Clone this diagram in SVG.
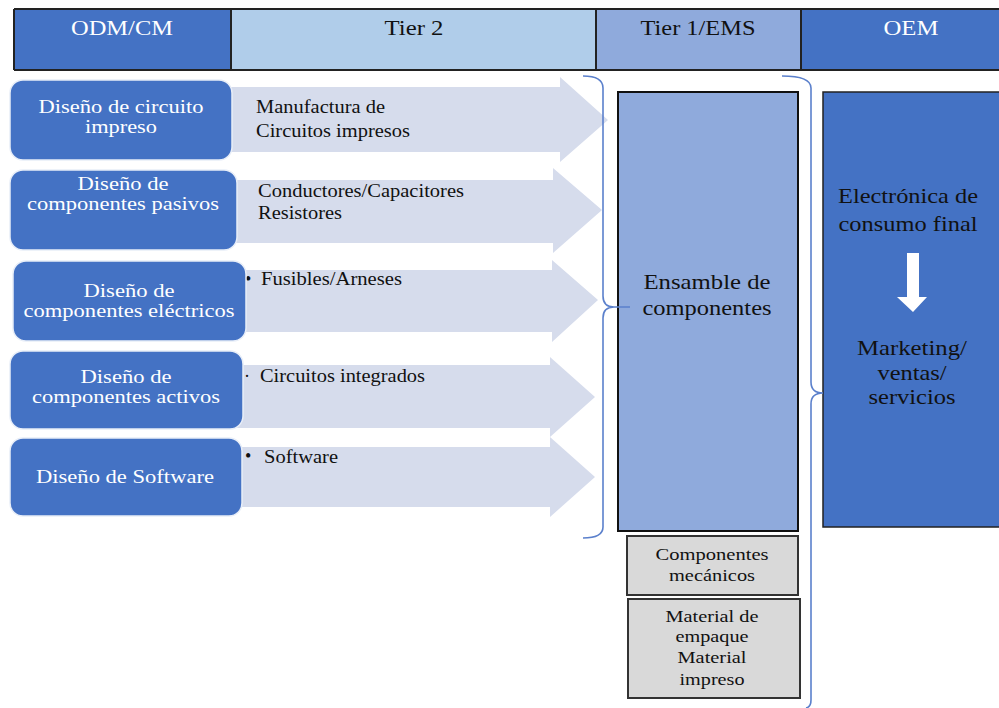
<svg xmlns="http://www.w3.org/2000/svg" width="999" height="708" viewBox="0 0 999 708">
  <style>
    text { font-family: "Liberation Serif", "Times New Roman", serif; }
    .hdr { font-size: 21px; text-anchor: middle; }
    .lbl { font-size: 19.5px; fill: #ffffff; text-anchor: middle; }
    .arrtxt { font-size: 18px; fill: #111111; }
    .big { font-size: 21px; fill: #111111; text-anchor: middle; }
    .small { font-size: 17.5px; fill: #111111; text-anchor: middle; }
    .design { fill: #4472C4; stroke: #e8eef8; stroke-width: 1.5; }
    .flow { fill: #D6DCEC; }
    .brace { fill: none; stroke: #5B80CC; stroke-width: 1.6; }
  </style>

  <!-- header row -->
  <g id="header">
    <rect x="14" y="9" width="217" height="61" fill="#4472C4"/>
    <rect x="231" y="9" width="365" height="61" fill="#B0CDEA"/>
    <rect x="596" y="9" width="205" height="61" fill="#8FAADC"/>
    <rect x="801" y="9" width="210" height="61" fill="#4472C4"/>
    <path d="M14,9 H1010 M14,70 H1010 M14,9 V70 M231,9 V70 M596,9 V70 M801,9 V70" stroke="#222222" stroke-width="2" fill="none"/>
    <text class="hdr" x="122" y="35" fill="#ffffff" textLength="102" lengthAdjust="spacingAndGlyphs">ODM/CM</text>
    <text class="hdr" x="414" y="35" fill="#111111" textLength="59" lengthAdjust="spacingAndGlyphs">Tier 2</text>
    <text class="hdr" x="698" y="35" fill="#111111" textLength="115" lengthAdjust="spacingAndGlyphs">Tier 1/EMS</text>
    <text class="hdr" x="911" y="35" fill="#ffffff" textLength="55" lengthAdjust="spacingAndGlyphs">OEM</text>
  </g>

  <!-- flow arrows from design to tier 2 -->
  <g id="flows">
    <polygon class="flow" points="220,87 560,87 560,77 608,120 560,162 560,152 220,152"/>
    <polygon class="flow" points="220,180 553,180 553,168 602,210 553,253 553,243 220,243"/>
    <polygon class="flow" points="220,270 552,270 552,260 598,300 552,342 552,332 220,332"/>
    <polygon class="flow" points="220,365 550,365 550,357 595,397 550,437 550,428 220,428"/>
    <polygon class="flow" points="220,447 550,447 550,437 595,477 550,517 550,507 220,507"/>
  </g>

  <g id="tier2-labels">
    <text class="arrtxt" x="256" y="113" textLength="129" lengthAdjust="spacingAndGlyphs">Manufactura de</text>
    <text class="arrtxt" x="256" y="137" textLength="154" lengthAdjust="spacingAndGlyphs">Circuitos impresos</text>
    <text class="arrtxt" x="258" y="197" textLength="206" lengthAdjust="spacingAndGlyphs">Conductores/Capacitores</text>
    <text class="arrtxt" x="258" y="219" textLength="84" lengthAdjust="spacingAndGlyphs">Resistores</text>
    <text class="arrtxt" x="245" y="285" font-size="15">•</text>
    <text class="arrtxt" x="261" y="285" textLength="141" lengthAdjust="spacingAndGlyphs">Fusibles/Arneses</text>
    <text class="arrtxt" x="244" y="382" font-size="15">·</text>
    <text class="arrtxt" x="260" y="382" textLength="165" lengthAdjust="spacingAndGlyphs">Circuitos integrados</text>
    <text class="arrtxt" x="245" y="462" font-size="15">•</text>
    <text class="arrtxt" x="264" y="463" textLength="74" lengthAdjust="spacingAndGlyphs">Software</text>
  </g>

  <!-- design nodes -->
  <g id="n-circuito">
    <rect class="design" x="10" y="80" width="222" height="80" rx="13"/>
    <text class="lbl" x="121" y="113" textLength="165" lengthAdjust="spacingAndGlyphs">Diseño de circuito</text>
    <text class="lbl" x="121" y="133" textLength="72" lengthAdjust="spacingAndGlyphs">impreso</text>
  </g>
  <g id="n-pasivos">
    <rect class="design" x="10" y="170" width="227" height="80" rx="13"/>
    <text class="lbl" x="123" y="190" textLength="91" lengthAdjust="spacingAndGlyphs">Diseño de</text>
    <text class="lbl" x="123" y="210" textLength="192" lengthAdjust="spacingAndGlyphs">componentes pasivos</text>
  </g>
  <g id="n-electricos">
    <rect class="design" x="13" y="261" width="233" height="80" rx="13"/>
    <text class="lbl" x="129" y="297" textLength="91" lengthAdjust="spacingAndGlyphs">Diseño de</text>
    <text class="lbl" x="129" y="317" textLength="211" lengthAdjust="spacingAndGlyphs">componentes eléctricos</text>
  </g>
  <g id="n-activos">
    <rect class="design" x="10" y="351" width="233" height="78" rx="13"/>
    <text class="lbl" x="126" y="383" textLength="91" lengthAdjust="spacingAndGlyphs">Diseño de</text>
    <text class="lbl" x="126" y="403" textLength="188" lengthAdjust="spacingAndGlyphs">componentes activos</text>
  </g>
  <g id="n-software">
    <rect class="design" x="10" y="438" width="232" height="78" rx="13"/>
    <text class="lbl" x="125" y="483" textLength="178" lengthAdjust="spacingAndGlyphs">Diseño de Software</text>
  </g>

  <!-- tier 1 assembly -->
  <g id="n-ensamble">
    <rect x="618" y="92" width="180" height="439" fill="#8FAADC" stroke="#111111" stroke-width="2"/>
    <text class="big" x="707" y="289" textLength="127" lengthAdjust="spacingAndGlyphs">Ensamble de</text>
    <text class="big" x="707" y="315" textLength="129" lengthAdjust="spacingAndGlyphs">componentes</text>
  </g>
  <g id="n-mecanicos">
    <rect x="627" y="536" width="171" height="59" fill="#D9D9D9" stroke="#333333" stroke-width="2"/>
    <text class="small" x="712" y="560" textLength="113" lengthAdjust="spacingAndGlyphs">Componentes</text>
    <text class="small" x="712" y="581" textLength="86" lengthAdjust="spacingAndGlyphs">mecánicos</text>
  </g>
  <g id="n-empaque">
    <rect x="628" y="599" width="172" height="99" fill="#D9D9D9" stroke="#333333" stroke-width="2"/>
    <text class="small" x="712" y="622" textLength="93" lengthAdjust="spacingAndGlyphs">Material de</text>
    <text class="small" x="712" y="642" textLength="73" lengthAdjust="spacingAndGlyphs">empaque</text>
    <text class="small" x="712" y="663" textLength="69" lengthAdjust="spacingAndGlyphs">Material</text>
    <text class="small" x="712" y="685" textLength="65" lengthAdjust="spacingAndGlyphs">impreso</text>
  </g>

  <!-- OEM -->
  <g id="n-oem">
    <rect x="823" y="92" width="190" height="435" fill="#4472C4" stroke="#222222" stroke-width="1.5"/>
    <text class="big" x="908" y="203" textLength="140" lengthAdjust="spacingAndGlyphs">Electrónica de</text>
    <text class="big" x="908" y="231" textLength="139" lengthAdjust="spacingAndGlyphs">consumo final</text>
    <polygon points="907,253 919,253 919,297 927,297 913,312 897,297 907,297" fill="#ffffff"/>
    <text class="big" x="912" y="355" textLength="110" lengthAdjust="spacingAndGlyphs">Marketing/</text>
    <text class="big" x="912" y="380" textLength="69" lengthAdjust="spacingAndGlyphs">ventas/</text>
    <text class="big" x="912" y="404" textLength="87" lengthAdjust="spacingAndGlyphs">servicios</text>
  </g>

  <!-- grouping braces -->
  <g id="connectors">
    <path class="brace" d="M583,76 Q603,76 603,88 L603,296 Q603,307 614,307 L630,307 M614,307 Q603,307 603,318 L603,527 Q603,538 583,538"/>
    <path class="brace" d="M782,76 Q811,76 811,88 L811,382 Q811,393 823,393 M823,393 Q811,393 811,404 L811,700 Q811,707 806,708"/>
  </g>
</svg>
